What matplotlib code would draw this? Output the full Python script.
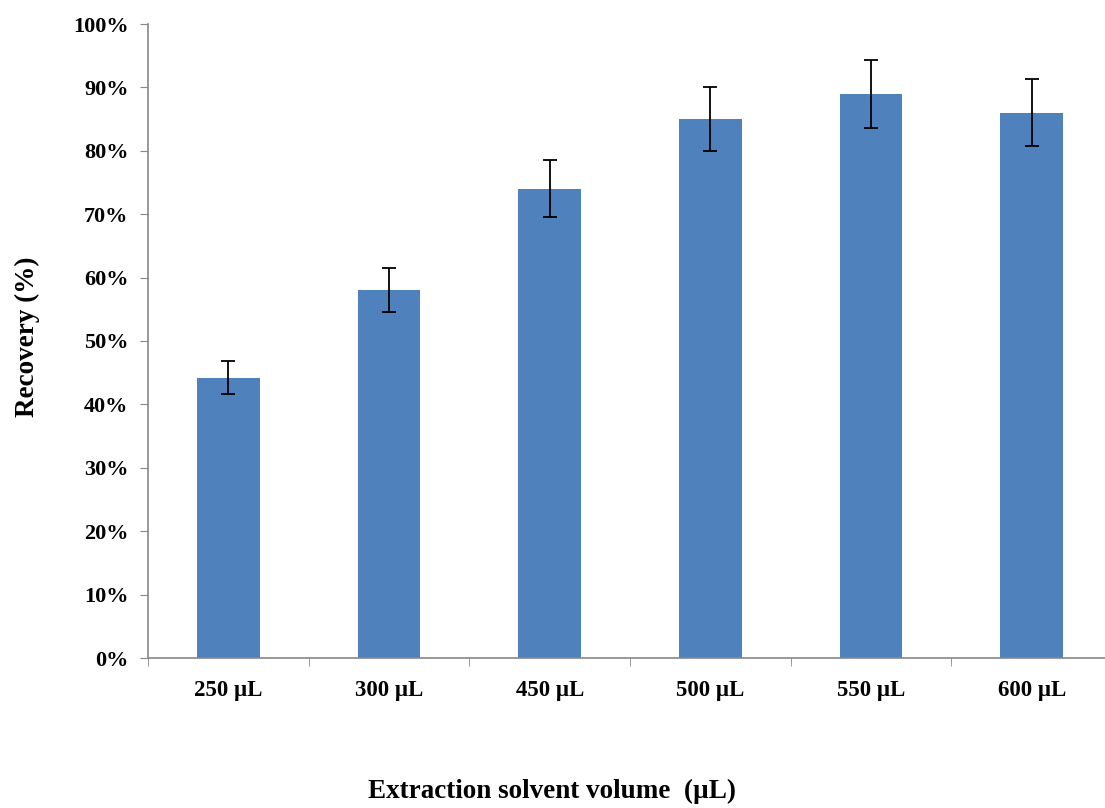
import matplotlib
matplotlib.use("Agg")
import matplotlib.pyplot as plt
import numpy as np
from matplotlib.ticker import FixedLocator, PercentFormatter

categories = ["250 µL", "300 µL", "450 µL", "500 µL", "550 µL", "600 µL"]
recovery = [44.2, 58.0, 74.0, 85.0, 89.0, 86.0]
errors = [2.6, 3.5, 4.5, 5.0, 5.4, 5.3]

plt.rcParams['font.family'] = ['Liberation Serif', 'DejaVu Serif']
plt.rcParams['font.weight'] = 'bold'

fig = plt.figure(figsize=(11.05, 8.08), dpi=100)
ax = fig.add_axes([148/1105, 1-658/808, (1112-148)/1105, (658-24)/808])

x = np.arange(len(categories))
ax.bar(x, recovery, width=0.39, color='#4F81BD', zorder=2)
ax.errorbar(x, recovery, yerr=errors, fmt='none', ecolor='black', elinewidth=1.3,
            capsize=5, capthick=1.3, zorder=3)

ax.set_xlim(-0.5, len(categories) - 0.5)
ax.set_ylim(0, 100)
ax.yaxis.set_major_locator(FixedLocator(np.arange(0, 101, 10)))
ax.yaxis.set_major_formatter(PercentFormatter(decimals=0))
ax.set_xticks(x)
ax.set_xticklabels(categories, fontsize=16.5, fontweight='bold')
ax.xaxis.set_minor_locator(FixedLocator(np.arange(-0.5, len(categories), 1)))
ax.tick_params(axis='x', which='major', length=0, pad=16)
ax.tick_params(axis='x', which='minor', length=6, color='#888888', direction='out')
ax.tick_params(axis='y', length=6, color='#888888', direction='out', labelsize=16, pad=8)
for lab in ax.get_yticklabels():
    lab.set_fontweight('bold')

for s in ['top', 'right']:
    ax.spines[s].set_visible(False)
for s in ['left', 'bottom']:
    ax.spines[s].set_color('#888888')
    ax.spines[s].set_linewidth(1.2)

fig.text(552/1105, 1-791/808, "Extraction solvent volume  (µL)", ha='center', va='center',
         fontsize=19.5, fontweight='bold')
fig.text(27/1105, 1-337/808, "Recovery (%)", ha='center', va='center', rotation=90,
         fontsize=19.5, fontweight='bold')

fig.savefig("out.png", dpi=100)
